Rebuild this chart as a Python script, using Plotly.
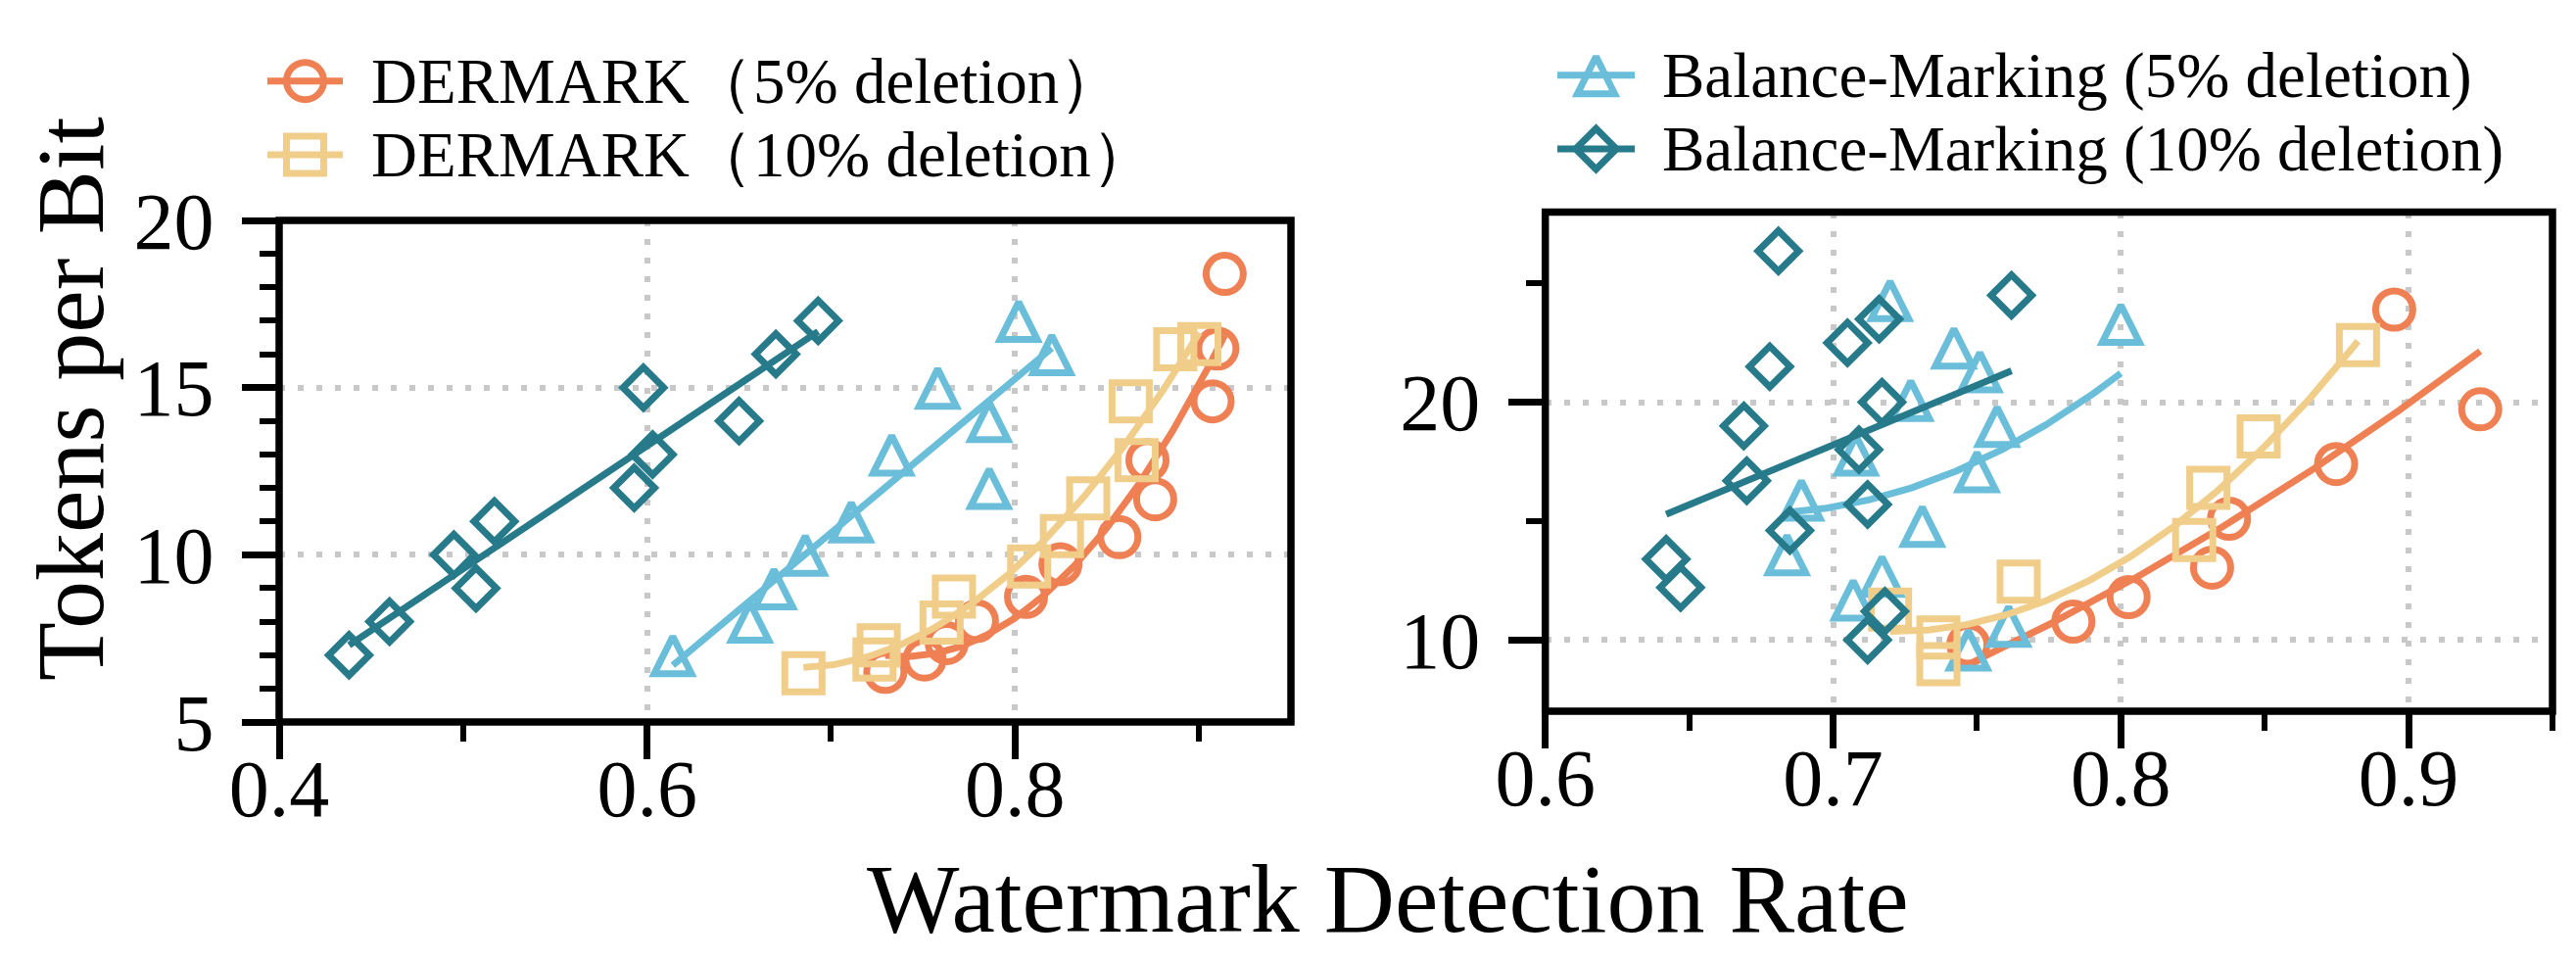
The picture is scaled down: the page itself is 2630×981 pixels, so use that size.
import numpy as np
import plotly.graph_objects as go

W, H = 2630, 981
FONT = "Liberation Serif, Times New Roman, serif"

# ---------------- data ----------------
# Left panel
D5_L_x = [0.7295, 0.7508, 0.7629, 0.7793, 0.806, 0.8247, 0.8567, 0.8762, 0.872, 0.9074, 0.910, 0.914]
D5_L_y = [6.5, 6.87, 7.36, 8.02, 8.74, 9.72, 10.53, 11.66, 12.83, 14.59, 16.17, 18.4]
D10_L_x = [0.685, 0.7236, 0.7259, 0.7601, 0.7668, 0.8077, 0.8255, 0.8398, 0.8661, 0.8629, 0.8871, 0.9002]
D10_L_y = [6.46, 6.87, 7.29, 7.97, 8.75, 9.65, 10.56, 11.69, 12.83, 14.59, 16.15, 16.3]
B5_L_x = [0.614, 0.656, 0.669, 0.686, 0.711, 0.733, 0.758, 0.786, 0.786, 0.802, 0.820]
B5_L_y = [7, 8, 9, 10, 11, 13, 15, 14, 12, 17, 16]
B10_L_x = [0.438, 0.460, 0.495, 0.507, 0.517, 0.598, 0.603, 0.593, 0.650, 0.670, 0.693]
B10_L_y = [7, 8, 10, 9, 11, 15, 13, 12, 14, 16, 17]

# Right panel
D5_R_x = [0.747, 0.7835, 0.8027, 0.8317, 0.8376, 0.8748, 0.8950, 0.9249]
D5_R_y = [9.8, 10.77, 11.8, 13.04, 15.1, 17.4, 23.9, 19.7]
D10_R_x = [0.7198, 0.7366, 0.7366, 0.7645, 0.8255, 0.8304, 0.8479, 0.8824]
D10_R_y = [11.28, 10.1, 8.98, 12.45, 14.2, 16.4, 18.56, 22.4]
B5_R_x = [0.7198, 0.800, 0.742, 0.751, 0.727, 0.757, 0.708, 0.750, 0.689, 0.731, 0.684, 0.717, 0.707, 0.761, 0.747]
B5_R_y = [24.3, 23.3, 22.3, 21.3, 20.1, 19.0, 17.8, 17.1, 15.9, 14.8, 13.6, 12.7, 11.7, 10.6, 9.6]
B10_R_x = [0.681, 0.762, 0.716, 0.705, 0.678, 0.717, 0.669, 0.709, 0.670, 0.712, 0.685, 0.642, 0.647, 0.718, 0.712]
B10_R_y = [26.36, 24.5, 23.5, 22.5, 21.5, 20.0, 19.0, 18.0, 16.7, 15.7, 14.6, 13.4, 12.2, 11.2, 10.0]

LEGEND_LABELS = ["DERMARK（5% deletion）", "DERMARK（10% deletion）",
                 "Balance-Marking (5% deletion)", "Balance-Marking (10% deletion)"]
X_TITLE = "Watermark Detection Rate"
Y_TITLE = "Tokens per Bit"

# ---------------- styles ----------------
C_D5 = "#EF8054"
C_D10 = "#F1CD8A"
C_B5 = "#6ABED9"
C_B10 = "#267A8A"
MLW = 7
LW = 7

STY = {
    "D5": dict(color=C_D5, symbol="circle-open", size=38),
    "D10": dict(color=C_D10, symbol="square-open", size=38),
    "B5": dict(color=C_B5, symbol="arrow-down-open", size=38, angle=180, standoff=19),
    "B10": dict(color=C_B10, symbol="diamond-open", size=32),
}


def marker_dict(key):
    s = STY[key]
    d = dict(color=s["color"], symbol=s["symbol"], size=s["size"],
             line=dict(color=s["color"], width=MLW))
    if "angle" in s:
        d["angle"] = s["angle"]
        d["standoff"] = s["standoff"]
    return d


fig = go.Figure()


def add_series(x, y, key, deg, xa, ya):
    x = np.asarray(x, float)
    y = np.asarray(y, float)
    fig.add_trace(go.Scatter(x=x, y=y, mode="markers", marker=marker_dict(key),
                             xaxis=xa, yaxis=ya, showlegend=False, hoverinfo="skip"))
    coef = np.polyfit(x, y, deg)
    xs = np.linspace(x.min(), x.max(), 120)
    fig.add_trace(go.Scatter(x=xs, y=np.polyval(coef, xs), mode="lines",
                             line=dict(color=STY[key]["color"], width=LW),
                             xaxis=xa, yaxis=ya, showlegend=False, hoverinfo="skip"))


# left panel
add_series(D5_L_x, D5_L_y, "D5", 2, "x", "y")
add_series(B5_L_x, B5_L_y, "B5", 1, "x", "y")
add_series(D10_L_x, D10_L_y, "D10", 2, "x", "y")
add_series(B10_L_x, B10_L_y, "B10", 1, "x", "y")
# right panel
add_series(D5_R_x, D5_R_y, "D5", 2, "x2", "y2")
add_series(B5_R_x, B5_R_y, "B5", 2, "x2", "y2")
add_series(D10_R_x, D10_R_y, "D10", 2, "x2", "y2")
add_series(B10_R_x, B10_R_y, "B10", 1, "x2", "y2")

# ---------------- layout geometry (pixels) ----------------
LP = dict(l=285, r=1318, t=225, b=737)
RP = dict(l=1577.7, r=2606, t=216.5, b=726)

TICKFONT = dict(family=FONT, size=82, color="black")
GRID = dict(showgrid=True, gridcolor="#C8C8C8", gridwidth=6, griddash="6px,13px")


def axis_common():
    return dict(ticks="outside", ticklen=37, tickwidth=7, tickcolor="black",
                showline=False, zeroline=False, tickfont=TICKFONT, automargin=False,
                **GRID)


XSTAND = -40
YSTAND = 12

fig.update_layout(
    template="none",
    width=W, height=H, margin=dict(l=0, r=0, t=0, b=0, pad=0, autoexpand=False),
    paper_bgcolor="white", plot_bgcolor="rgba(0,0,0,0)", showlegend=False,
    xaxis=dict(domain=[LP["l"] / W, LP["r"] / W], anchor="y", range=[0.4, 0.95],
               tick0=0.4, dtick=0.2, tickformat=".1f", ticklabelstandoff=XSTAND,
               minor=dict(dtick=0.1, ticks="outside", ticklen=19, tickwidth=6,
                          tickcolor="black", showgrid=False),
               **axis_common()),
    yaxis=dict(domain=[1 - LP["b"] / H, 1 - LP["t"] / H], anchor="x", range=[5, 20],
               tick0=0, dtick=5, ticklabelstandoff=YSTAND,
               minor=dict(dtick=1, ticks="outside", ticklen=19, tickwidth=6,
                          tickcolor="black", showgrid=False),
               **axis_common()),
    xaxis2=dict(domain=[RP["l"] / W, RP["r"] / W], anchor="y2", range=[0.6, 0.95],
                tick0=0.6, dtick=0.1, tickformat=".1f", ticklabelstandoff=XSTAND,
                minor=dict(dtick=0.05, ticks="outside", ticklen=19, tickwidth=6,
                           tickcolor="black", showgrid=False),
                **axis_common()),
    yaxis2=dict(domain=[1 - RP["b"] / H, 1 - RP["t"] / H], anchor="x2", range=[7, 28],
                tick0=0, dtick=10, ticklabelstandoff=YSTAND,
                minor=dict(dtick=5, ticks="outside", ticklen=19, tickwidth=6,
                           tickcolor="black", showgrid=False),
                **axis_common()),
    xaxis3=dict(domain=[0, 1], anchor="y3", range=[0, W], visible=False,
                fixedrange=True, automargin=False, showgrid=False),
    yaxis3=dict(domain=[0, 1], anchor="x3", range=[H, 0], visible=False,
                fixedrange=True, automargin=False, showgrid=False),
)

# frames (spines centred on the plot edges)
for xr, yr in (("x domain", "y domain"), ("x2 domain", "y2 domain")):
    fig.add_shape(type="rect", xref=xr, yref=yr, x0=0, x1=1, y0=0, y1=1,
                  line=dict(color="black", width=7.5), layer="above")

# ---------------- manual legends ----------------
LEG = [
    ("D5", 273, 350, 82.7, 376.7),
    ("D10", 273, 350, 158.0, 376.7),
    ("B5", 1590, 1669, 76.7, 1695),
    ("B10", 1590, 1669, 152.0, 1695),
]
for (key, x0, x1, yc, tx), label in zip(LEG, LEGEND_LABELS):
    col = STY[key]["color"]
    fig.add_trace(go.Scatter(x=[x0, x1], y=[yc, yc], mode="lines",
                             line=dict(color=col, width=7), xaxis="x3", yaxis="y3",
                             showlegend=False, hoverinfo="skip", cliponaxis=False))
    fig.add_trace(go.Scatter(x=[(x0 + x1) / 2], y=[yc], mode="markers",
                             marker=marker_dict(key), xaxis="x3", yaxis="y3",
                             showlegend=False, hoverinfo="skip", cliponaxis=False))
    fig.add_annotation(x=tx / W, y=1 - yc / H, xref="paper", yref="paper",
                       xanchor="left", yanchor="middle", showarrow=False,
                       text=label, font=dict(family=FONT, size=65, color="black"))

# axis titles
fig.add_annotation(x=1417 / W, y=1 - 975 / H, xref="paper", yref="paper",
                   xanchor="center", yanchor="bottom", showarrow=False,
                   text=X_TITLE, font=dict(family=FONT, size=100, color="black"))
fig.add_annotation(x=72 / W, y=1 - 407 / H, xref="paper", yref="paper",
                   xanchor="center", yanchor="middle", showarrow=False, textangle=-90,
                   text=Y_TITLE, font=dict(family=FONT, size=98, color="black"))

fig.write_html("out.html", config={"displayModeBar": False},
               post_script="document.body.style.margin='0';"
               "document.body.style.overflow='hidden';")
